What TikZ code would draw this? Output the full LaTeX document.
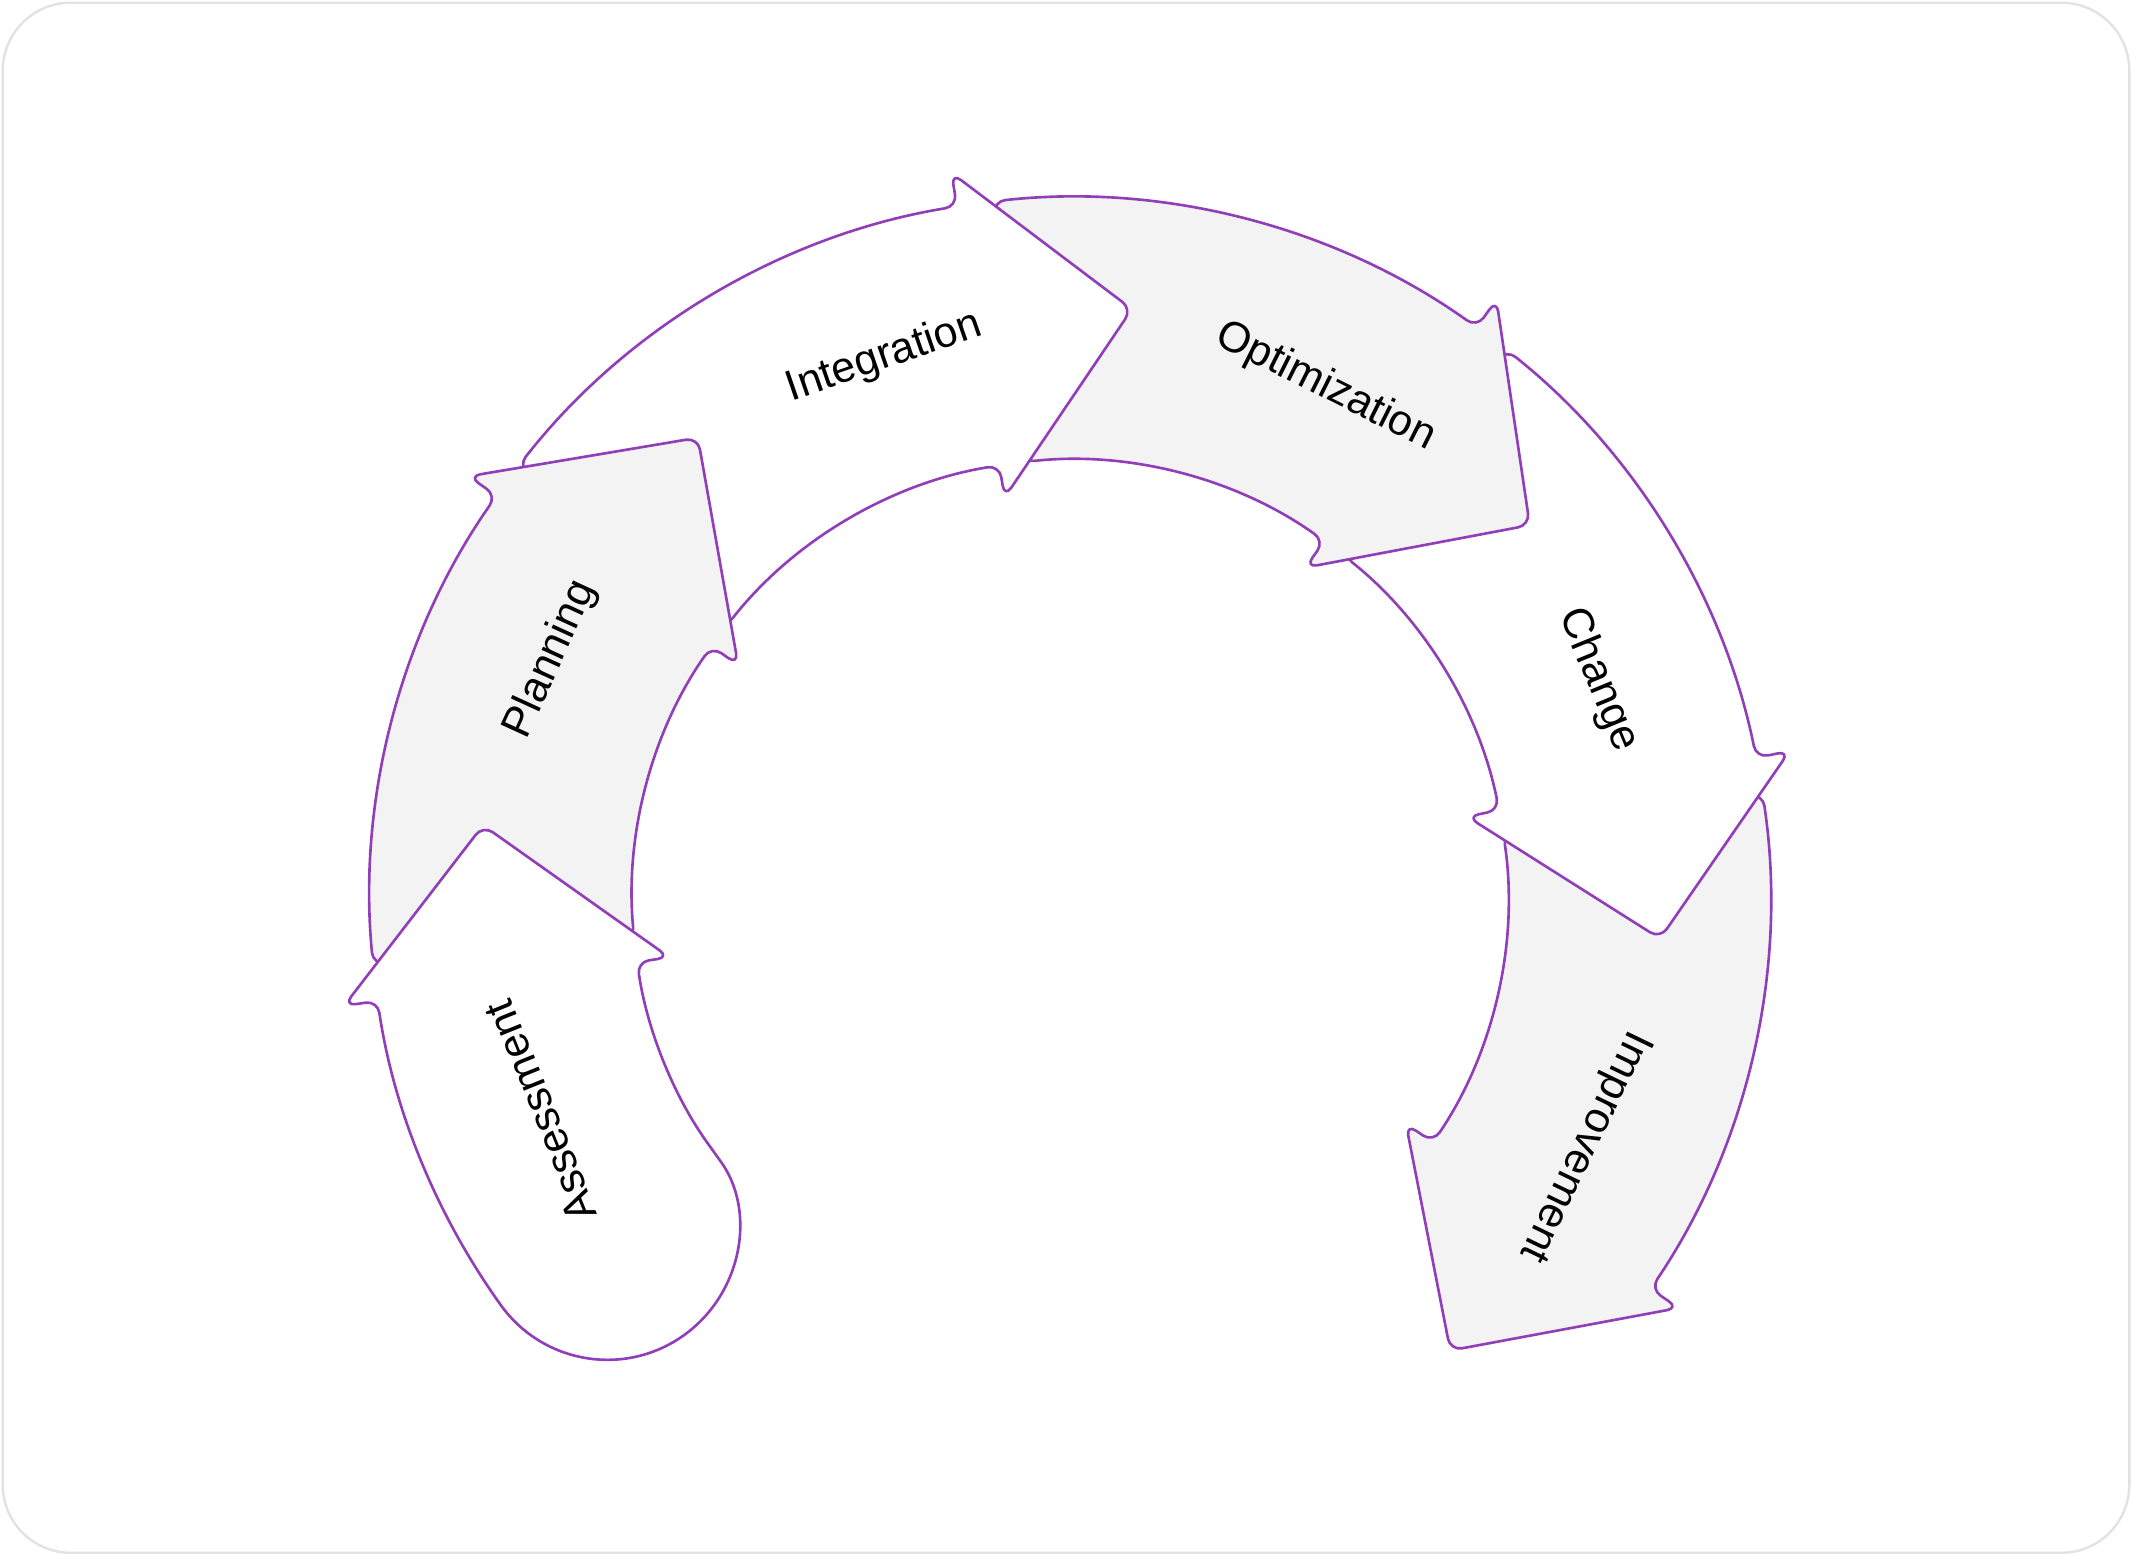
\documentclass[tikz,border=0pt]{standalone}
\usepackage{fontspec}
\setmainfont{Liberation Sans}
\definecolor{ring}{RGB}{145,62,185}
\definecolor{paper}{RGB}{243,243,243}
\definecolor{frame}{RGB}{226,226,226}
\newcommand{\Rout}{51.5}
\newcommand{\Rin}{32.2}
% #1 style, #2 tail angle, #3 head base angle, #4 tip angle
\newcommand{\ringarrow}[4]{%
  \draw[#1] (#2:\Rout) arc[start angle=#2, end angle=#3, radius=\Rout] -- (#3:54) -- (#4:43.5)
    -- (#3:29.8) -- (#3:\Rin) arc[start angle=#3, end angle=#2, radius=\Rin] -- cycle;}
\tikzset{
  stage/.style={draw=ring, line width=1.1pt, rounded corners=5, line join=round},
  grey stage/.style={stage, fill=paper},
  white stage/.style={stage, fill=white},
  stagelabel/.style={font=\fontsize{18}{21}\selectfont, inner sep=0pt}
}

\begin{document}
\begin{tikzpicture}[scale=0.2]
\useasboundingbox (0,0) rectangle (156.8,114.4);
\draw[frame, line width=1pt, rounded corners=1cm] (0.2,0.2) rectangle (156.6,114.2);

\begin{scope}[shift={(78.7,48.4)}]
% Arrows, last stage first
\ringarrow{grey stage}{8.5}{-34}{-50}
\ringarrow{white stage}{51.5}{11.5}{-4}
\ringarrow{grey stage}{96.3}{54.5}{39}
\ringarrow{white stage}{142}{99.3}{84}
\ringarrow{grey stage}{185.5}{145}{129}
\draw[white stage] (215.6:\Rout) arc[start angle=215.6, end angle=188.5, radius=\Rout] -- (188.5:54) -- (173:43.5)
  -- (188.5:29.8) -- (188.5:\Rin) arc[start angle=188.5, end angle=215.6, radius=\Rin]
  {[rounded corners=0] arc[start angle=35.6, end angle=-144.4, radius=9.65]};

% Labels
\node[stagelabel, rotate=112]    (assess) at (202:42)   {Assessment};
\node[stagelabel, rotate=65.4]   (plan)   at (155.4:42) {Planning};
\node[stagelabel, rotate=19]     (integ)  at (109:42)   {Integration};
\node[stagelabel, rotate=-26.6]  (optim)  at (63.4:42)  {Optimization};
\node[stagelabel, rotate=-67.6]  (change) at (22.4:42)  {Change};
\node[stagelabel, rotate=-115.8] (improv) at (-25.8:42) {Improvement};
\end{scope}
\end{tikzpicture}
\end{document}
